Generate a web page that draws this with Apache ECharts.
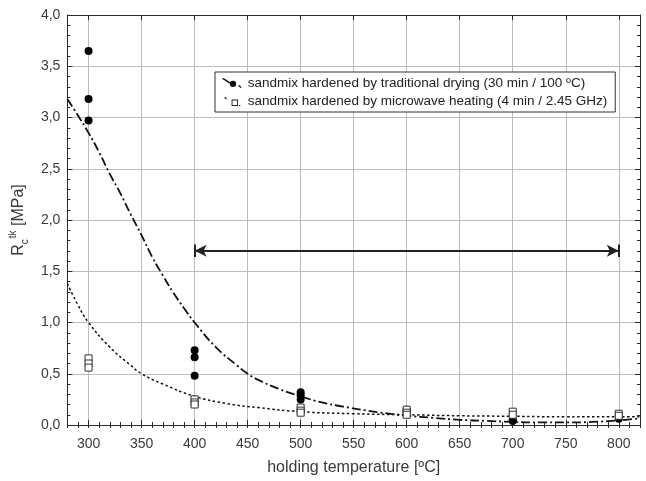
<!DOCTYPE html>
<html>
<head>
<meta charset="utf-8">
<script src="https://cdn.jsdelivr.net/npm/echarts@6/dist/echarts.min.js"></script>
<style>html,body{margin:0;padding:0;background:#fff}#c{width:646px;height:481px}</style>
</head>
<body>
<div id="c"></div>
<script>
// ---- data ----
const xTickLabels = [300, 350, 400, 450, 500, 550, 600, 650, 700, 750, 800];
const tradName = 'sandmix hardened by traditional drying (30 min / 100 ºC)';
const microName = 'sandmix hardened by microwave heating (4 min / 2.45 GHz)';

const tradPtsX = [300, 300, 300, 400, 400, 400, 500, 500, 500, 600, 600, 700, 700, 800];
const tradPtsY = [3.65, 3.18, 2.97, 0.73, 0.66, 0.48, 0.32, 0.29, 0.25, 0.15, 0.13, 0.05, 0.04, 0.06];

const microPtsX = [300, 300, 300, 400, 400, 400, 500, 500, 500, 600, 600, 600, 700, 700, 800, 800];
const microPtsY = [0.65, 0.60, 0.56, 0.25, 0.22, 0.20, 0.17, 0.14, 0.12, 0.15, 0.12, 0.10, 0.13, 0.10, 0.11, 0.09];

const tradCurveX = [280, 290, 300, 310, 320, 330, 340, 350, 360, 370, 380, 390, 400, 420, 440, 450, 460, 480, 500, 520, 540, 560, 580, 600, 625, 650, 675, 700, 725, 750, 775, 800, 820];
const tradCurveY = [3.18, 3.02, 2.85, 2.66, 2.45, 2.26, 2.05, 1.85, 1.64, 1.46, 1.29, 1.14, 1.00, 0.76, 0.58, 0.50, 0.44, 0.35, 0.28, 0.22, 0.18, 0.145, 0.115, 0.09, 0.07, 0.05, 0.04, 0.03, 0.025, 0.025, 0.03, 0.045, 0.065];

const microCurveX = [280, 290, 300, 320, 340, 350, 370, 400, 430, 460, 500, 550, 600, 650, 700, 750, 800, 820];
const microCurveY = [1.38, 1.17, 1.00, 0.76, 0.58, 0.50, 0.40, 0.28, 0.21, 0.17, 0.13, 0.11, 0.10, 0.09, 0.085, 0.08, 0.08, 0.08];

const arrowX = [400, 800];
const arrowY = 1.7;

// ---- build ----
const zip = (xs, ys) => xs.map((x, i) => [x, ys[i]]);
const chart = echarts.init(document.getElementById('c'), null, {renderer: 'canvas'});
const axisCol = '#2a2a2a';
const gridCol = '#bdbdbd';
const textCol = '#3a3a3a';
const font = 'Liberation Sans, Arial, sans-serif';

// legend icons: slanted line sample + marker (as in the reference key)
const tradIcon = 'path://M0,0 L1.6,-0.9 L9.6,4.1 L8,5 Z M15.5,5.5 A3.5,3.5 0 1 1 8.5,5.5 A3.5,3.5 0 1 1 15.5,5.5 Z M17.6,7.6 L18.8,6.8 L21.4,9.2 L20.2,10 Z';
const microIcon = 'path://M1,1 L2,0 L4,2 L3,3 Z M9,3 L16,3 L16,10 L9,10 Z M10,4 L10,9 L15,9 L15,4 Z M17,9 L18.5,9 L18.5,10 L17,10 Z M0,-0.9 L0.01,-0.9 Z';

function xAx(pos, main) {
  return {
    type: 'value', position: pos, min: 280, max: 820,
    axisLine: {show: true, onZero: false, lineStyle: {color: axisCol, width: 1}},
    axisTick: {show: true, inside: true, length: 5, customValues: xTickLabels, lineStyle: {color: axisCol}},
    axisLabel: main ? {show: true, customValues: xTickLabels, color: textCol, fontSize: 14, fontFamily: font, margin: 12} : {show: false},
    splitLine: {show: main, lineStyle: {color: gridCol, width: 1}},
    name: main ? 'holding temperature [ºC]' : '',
    nameLocation: 'middle', nameGap: 35,
    nameTextStyle: {color: textCol, fontSize: 16, fontFamily: font}
  };
}
function xMinor(pos) {
  return {
    type: 'value', position: pos, min: 280, max: 820, interval: 10,
    axisLine: {show: false}, axisLabel: {show: false}, splitLine: {show: false},
    axisTick: {show: true, inside: true, length: 3, lineStyle: {color: axisCol}}
  };
}
function yAx(pos, main) {
  return {
    type: 'value', position: pos, min: 0, max: 4, interval: 0.5,
    axisLine: {show: true, onZero: false, lineStyle: {color: axisCol, width: 1}},
    axisTick: {show: true, inside: true, length: 5, lineStyle: {color: axisCol}},
    axisLabel: main ? {show: true, color: textCol, fontSize: 14, fontFamily: font, margin: 7,
      formatter: v => v.toFixed(1).replace('.', ',')} : {show: false},
    splitLine: {show: main, lineStyle: {color: gridCol, width: 1}},
    name: main ? '{r|R}{s|c}{t|tk}{r| [MPa]}' : '',
    nameLocation: 'middle', nameGap: 36, nameRotate: 90,
    nameTextStyle: {
      color: textCol, fontFamily: font,
      rich: {
        r: {fontSize: 16, fontFamily: font, color: textCol, lineHeight: 22, verticalAlign: 'middle'},
        s: {fontSize: 10, fontFamily: font, color: textCol, lineHeight: 22, verticalAlign: 'bottom', padding: [6, 0, 0, 0]},
        t: {fontSize: 10, fontFamily: font, color: textCol, lineHeight: 22, verticalAlign: 'top', padding: [0, 0, 8, 1]}
      }
    }
  };
}
function yMinor(pos) {
  return {
    type: 'value', position: pos, min: 0, max: 4, interval: 0.1,
    axisLine: {show: false}, axisLabel: {show: false}, splitLine: {show: false},
    axisTick: {show: true, inside: true, length: 3, lineStyle: {color: axisCol}}
  };
}

const option = {
  animation: false,
  backgroundColor: '#fff',
  grid: {left: 65, right: 6, top: 15, bottom: 54, containLabel: false},
  xAxis: [xAx('bottom', true), xAx('top', false), xMinor('bottom'), xMinor('top')],
  yAxis: [yAx('left', true), yAx('right', false), yMinor('left'), yMinor('right')],
  legend: {
    left: 215, top: 72, orient: 'vertical',
    data: [
      {name: tradName, icon: tradIcon, itemStyle: {color: '#111', borderWidth: 0}},
      {name: microName, icon: microIcon, itemStyle: {color: '#222', borderWidth: 0}}
    ],
    itemWidth: 22, itemHeight: 10, itemGap: 4,
    padding: [4, 8, 4, 7],
    borderColor: '#333', borderWidth: 1, backgroundColor: '#fff',
    textStyle: {fontSize: 13.5, fontFamily: font, color: '#222'}
  },
  series: [
    {
      name: tradName, type: 'line', smooth: true, showSymbol: false,
      symbol: 'none',
      itemStyle: {color: '#000'},
      lineStyle: {color: '#111', width: 1.8, type: [9, 3, 2, 3]},
      data: zip(tradCurveX, tradCurveY), z: 3
    },
    {
      name: microName, type: 'line', smooth: true, showSymbol: false,
      symbol: 'none',
      itemStyle: {color: '#222'},
      lineStyle: {color: '#111', width: 1.5, type: [2.5, 2.5]},
      data: zip(microCurveX, microCurveY), z: 3
    },
    {
      name: tradName, type: 'scatter', symbol: 'circle', symbolSize: 8,
      itemStyle: {color: '#000', opacity: 1},
      data: zip(tradPtsX, tradPtsY), z: 4
    },
    {
      name: microName, type: 'scatter', symbol: 'rect', symbolSize: 7,
      itemStyle: {color: '#fff', borderColor: '#333', borderWidth: 1, opacity: 1},
      data: zip(microPtsX, microPtsY), z: 4
    },
    {
      name: 'arrow', type: 'line', data: [], silent: true,
      markLine: {
        silent: true, animation: false,
        label: {show: false},
        lineStyle: {color: '#222', width: 2, type: 'solid'},
        symbol: ['arrow', 'arrow'], symbolSize: [9, 12],
        data: [
          [{coord: [arrowX[0], arrowY]}, {coord: [arrowX[1], arrowY]}],
          [{coord: [arrowX[0], arrowY - 0.06], symbol: 'none'}, {coord: [arrowX[0], arrowY + 0.06], symbol: 'none'}],
          [{coord: [arrowX[1], arrowY - 0.06], symbol: 'none'}, {coord: [arrowX[1], arrowY + 0.06], symbol: 'none'}]
        ]
      }
    }
  ]
};
chart.setOption(option);
</script>
</body>
</html>
